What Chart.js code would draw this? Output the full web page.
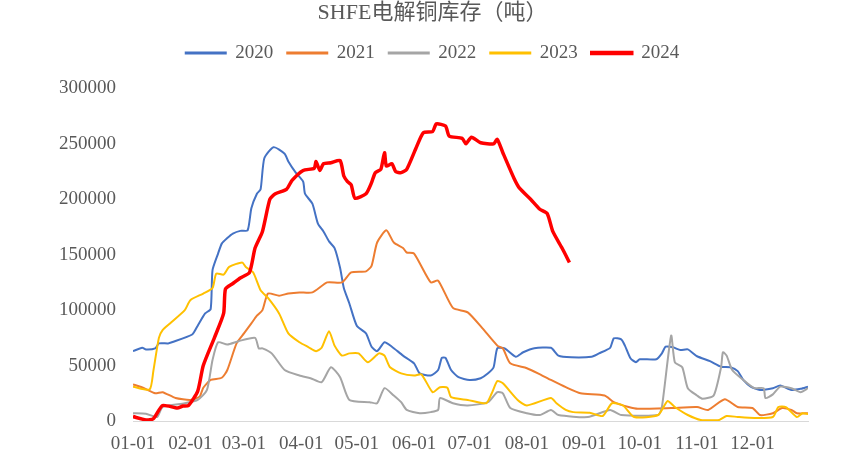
<!DOCTYPE html>
<html>
<head>
<meta charset="utf-8">
<script src="https://cdn.jsdelivr.net/npm/chart.js@4.4.1/dist/chart.umd.min.js"></script>
<style>
  html, body { margin: 0; padding: 0; background: #fff; }
  #wrap { width: 865px; height: 467px; }
</style>
</head>
<body>
<div id="wrap"><canvas id="chart"></canvas></div>
<script>
// 月份刻度（按天数，2024闰年）
const monthStarts = [0, 31, 60, 91, 121, 152, 182, 213, 244, 274, 305, 335];
const monthLabels = ['01-01', '02-01', '03-01', '04-01', '05-01', '06-01', '07-01', '08-01', '09-01', '10-01', '11-01', '12-01'];
const yTicks = [0, 50000, 100000, 150000, 200000, 250000, 300000];

// 各年库存（吨），day = 一年中的第几天
const days2020 = [0,5,7,12,14,19,21,32,35,39,42,43,46,48,51,54,58,62,64,67,69,71,76,82,84,88,92,93,97,100,103,106,109,112,114,117,121,126,129,132,136,140,146,152,155,161,165,167,169,172,176,182,188,192,195,197,201,207,211,217,226,230,237,248,252,258,260,264,266,269,272,274,283,286,288,292,296,300,305,312,318,323,327,330,334,339,346,350,356,361,365];
const vals2020 = [63000,66000,64500,65500,70000,70000,71000,78000,86000,97000,101000,136000,151000,160000,165000,169000,171500,172000,192000,205000,209000,237000,247000,241000,234000,224000,216000,205000,196000,178000,171000,162000,156000,138000,120000,106000,86000,79000,67000,63000,71000,67000,59000,52000,43000,41000,46000,57000,57000,46000,39500,37000,38600,43000,48500,65600,65500,58000,62000,65600,66000,59000,57500,58000,61000,66000,74500,73600,68000,56600,53000,55700,55700,61000,67000,66500,64000,64600,58400,54000,49000,48500,45000,37000,31000,28000,29600,32000,28000,29000,31000];

const days2021 = [0,6,12,16,23,31,36,38,42,48,51,56,60,64,67,70,73,79,84,90,97,105,113,118,126,129,132,137,141,146,148,152,161,165,173,181,189,197,200,204,213,219,226,234,242,255,260,268,273,291,305,311,320,327,335,339,346,351,356,359,365];
const vals2021 = [33000,29600,25000,26000,20700,19000,22000,30000,37000,39000,46000,70000,79000,88000,95000,100000,115000,113000,115000,116000,116000,125000,125000,134000,135000,140000,161000,172000,161000,156000,152000,151000,125000,126600,102000,98000,83500,68000,65500,52000,47600,43000,37000,30500,25000,23000,17000,12600,11000,11700,12600,10000,19700,12600,11700,5400,7000,11700,10000,7000,7000];

const days2022 = [0,7,13,16,28,35,40,43,46,51,57,66,68,70,75,82,90,96,102,107,112,117,128,132,136,141,145,148,155,161,165,166,173,181,192,197,200,204,213,220,226,230,246,258,264,284,286,291,293,297,300,305,308,314,318,319,321,324,330,336,341,342,346,350,356,361,365];
const vals2022 = [7000,6500,3600,12600,16000,19000,28000,55000,71000,69000,72000,75000,65500,65500,61000,46000,41000,38600,35000,48500,39500,19000,17000,16000,29600,23000,17000,10000,7000,8000,10000,20700,16000,14000,17000,26000,25000,11700,7000,5400,10000,5400,3600,10000,5400,5400,12600,77000,53000,48500,29600,23000,20000,23000,48500,62000,59000,46000,37000,29600,29600,20700,24000,31000,29600,26000,29600];

const days2023 = [0,9,11,14,16,20,28,31,38,43,45,49,52,59,61,65,69,73,79,84,90,95,99,102,106,109,113,117,122,127,133,136,139,145,152,156,162,166,170,172,181,191,194,197,200,208,213,226,229,234,238,247,254,259,265,271,284,289,293,300,307,317,321,327,336,346,349,353,359,362,365];
const vals2023 = [31000,28500,45000,75000,82000,88000,100000,109000,115000,120000,133000,132000,139000,143000,139000,134000,118000,111000,97000,79000,71000,66500,63000,66000,81000,68000,59000,61000,61000,53000,61000,59000,48500,43000,41000,42000,26000,30500,30000,21500,19000,16000,25000,36000,34000,19000,14000,20700,16000,10000,8000,7500,4500,16000,14000,3600,5400,18000,12600,5400,1000,1000,4500,3600,2700,3600,12600,12600,3600,7000,6300];

const days2024 = [0,7,11,16,24,27,30,35,38,44,49,50,54,58,63,66,70,74,77,83,86,92,98,99,101,103,107,112,114,116,118,120,126,129,131,134,136,137,140,142,145,148,153,157,162,164,169,171,178,180,183,188,195,197,200,206,209,215,220,224,227,232,236];
const vals2024 = [4000,1000,2000,14000,11700,13500,14000,27000,50000,75000,97000,119000,124000,129000,134000,156000,171000,200000,205000,209000,217000,226000,228000,234000,226000,232000,233000,235000,221000,216000,213000,201000,205000,215000,224000,227000,242000,230000,232000,225000,224000,227000,246000,260000,261000,268000,266000,257000,255000,250000,256000,251000,250000,254000,242000,219000,210000,200000,191000,187000,171000,156000,143000];

const textColor = '#595959';
const serif = "'Liberation Serif', 'Noto Sans CJK SC', serif";

function toPoints(days, vals) {
    return days.map((d, i) => ({ x: d, y: vals[i] }));
}

function makeSet(label, days, vals, color, width, order) {
    return {
        label: label,
        data: toPoints(days, vals),
        borderColor: color,
        backgroundColor: color,
        borderWidth: width,
        pointRadius: 0,
        tension: 0.2,
        order: order
    };
}

// 图例下方留出空白
const legendGap = {
    id: 'legendGap',
    beforeInit(chart) {
        const fit = chart.legend.fit;
        chart.legend.fit = function () {
            fit.call(this);
            this.height += 16;
        };
    }
};

const ctx = document.getElementById('chart').getContext('2d');
new Chart(ctx, {
    type: 'line',
    data: {
        datasets: [
            makeSet('2020', days2020, vals2020, '#4472C4', 2, 5),
            makeSet('2021', days2021, vals2021, '#ED7D31', 2, 4),
            makeSet('2022', days2022, vals2022, '#A5A5A5', 2, 3),
            makeSet('2023', days2023, vals2023, '#FFC000', 2, 2),
            makeSet('2024', days2024, vals2024, '#FF0000', 3.5, 1)
        ]
    },
    plugins: [legendGap],
    options: {
        responsive: true,
        maintainAspectRatio: false,
        animation: false,
        layout: { padding: 0 },
        plugins: {
            title: {
                display: true,
                text: 'SHFE电解铜库存（吨）',
                color: textColor,
                font: { family: serif, size: 22, weight: 'normal' },
                padding: { top: 0, bottom: 3 }
            },
            legend: {
                labels: {
                    color: textColor,
                    font: { family: serif, size: 19 },
                    boxWidth: 40,
                    boxHeight: 1,
                    padding: 14,
                    sort: (a, b) => a.datasetIndex - b.datasetIndex
                }
            },
            tooltip: { enabled: false }
        },
        scales: {
            x: {
                type: 'linear',
                min: 0,
                max: 365,
                grid: { display: false },
                border: { display: true, color: '#D9D9D9', width: 1 },
                afterBuildTicks: (scale) => {
                    scale.ticks = monthStarts.map(v => ({ value: v }));
                },
                afterFit: (scale) => { scale.height = 46; },
                ticks: {
                    color: textColor,
                    font: { family: serif, size: 19 },
                    padding: 4,
                    maxRotation: 0,
                    autoSkip: false,
                    callback: (value) => monthLabels[monthStarts.indexOf(value)]
                }
            },
            y: {
                min: 0,
                max: 300000,
                grid: { display: false },
                border: { display: false },
                afterBuildTicks: (scale) => {
                    scale.ticks = yTicks.map(v => ({ value: v }));
                },
                afterFit: (scale) => { scale.width = 133; },
                ticks: {
                    color: textColor,
                    font: { family: serif, size: 19 },
                    padding: 9,
                    callback: (value) => String(value)
                }
            },
            yRight: {
                position: 'right',
                display: true,
                grid: { display: false },
                border: { display: false },
                ticks: { display: false },
                afterFit: (scale) => { scale.width = 57; }
            }
        }
    }
});
</script>
</body>
</html>
